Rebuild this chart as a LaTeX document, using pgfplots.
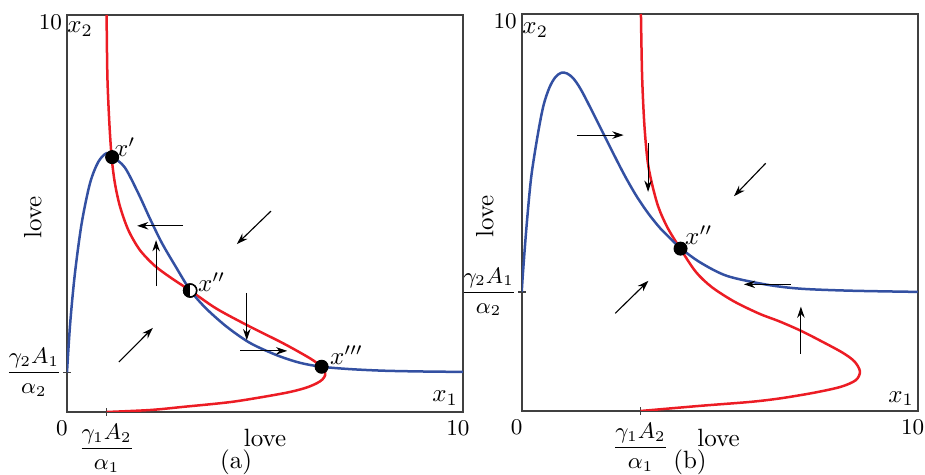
\documentclass[border=0pt]{standalone}
\usepackage{pgfplots}
\pgfplotsset{compat=1.18}
\usetikzlibrary{arrows.meta}
\definecolor{nullRed}{HTML}{EC1C24}
\definecolor{nullBlue}{HTML}{3350A2}
\definecolor{frameGray}{HTML}{404040}

\pgfplotsset{phase panel/.style={
  scale only axis, anchor=south west,
  width=158.4pt, height=158.8pt,
  xmin=0, xmax=10, ymin=0, ymax=10,
  axis line style={frameGray,line width=0.6pt},
  tick style={frameGray,line width=0.5pt},
  tick align=center, tick pos=left, major tick length=3pt,
  tick label style={font=\small},
  yticklabel style={xshift=3pt},
  label style={font=\normalsize},
  extra x ticks={0,10}, extra x tick labels={$0$,$10$},
  extra x tick style={major tick length=0pt,xticklabel style={xshift=-2pt}},
  extra y ticks={10}, extra y tick labels={$10$},
  extra y tick style={major tick length=0pt,yticklabel style={xshift=-1.5pt,yshift=-3pt}},
  xlabel={love}, ylabel={love},
},
curve/.style={line width=1pt,smooth,mark=none},
flow/.style={black,line width=0.45pt,mark=none,-{Stealth[length=4.5pt,width=3pt]}},
eq/.style={only marks,mark=*,mark size=2.6pt,black},
}

\begin{document}
\begin{tikzpicture}
\path[use as bounding box] (0,0) rectangle (370pt,190pt);

% ---------- panel (a)
\begin{axis}[phase panel, at={(26.8pt,25.2pt)},
  xtick={1}, xticklabels={$\displaystyle\frac{\gamma_1 A_2}{\alpha_1}$},
  ytick={1}, yticklabels={$\displaystyle\frac{\gamma_2 A_1}{\alpha_2}$},
  xlabel style={at={(axis description cs:0.5,-0.066)},anchor=center},
  ylabel style={at={(axis description cs:-0.086,0.49)},anchor=center},
]
\addplot[curve,nullRed] coordinates {
  (1.0,0.0) (2.1,0.05) (2.94,0.13) (4.2,0.26) (5.46,0.47) (6.0,0.6)
  (6.3,0.72) (6.45,0.82) (6.52,0.93) (6.5,1.04) (6.43,1.14) (6.14,1.35)
  (5.46,1.73) (4.62,2.15) (3.78,2.6) (3.11,3.06) (2.64,3.37) (2.22,3.68)
  (1.84,4.08) (1.55,4.58) (1.34,5.17) (1.21,5.76) (1.13,6.39) (1.07,7.27)
  (1.02,8.45) (1.0,10)};
\addplot[curve,nullBlue] coordinates {
  (0,1.0) (0.08,2.23) (0.2,3.49) (0.37,4.75) (0.58,5.76) (0.79,6.3)
  (1.0,6.52) (1.15,6.43) (1.46,6.16) (1.8,5.51) (2.1,4.86) (2.4,4.25)
  (2.74,3.67) (3.11,3.07) (3.5,2.62) (4.03,2.15) (4.62,1.74) (5.3,1.43)
  (5.88,1.24) (6.43,1.14) (7.15,1.08) (8,1.04) (9,1.02) (10,1.01)};
\addplot[flow] coordinates {(2.93,4.69) (1.77,4.69)};
\addplot[flow] coordinates {(2.25,3.17) (2.25,4.33)};
\addplot[flow] coordinates {(5.15,5.06) (4.29,4.23)};
\addplot[flow] coordinates {(1.31,1.26) (2.17,2.12)};
\addplot[flow] coordinates {(4.54,3.0) (4.54,1.81)};
\addplot[flow] coordinates {(4.37,1.54) (5.56,1.54)};
\addplot[eq] coordinates {(1.14,6.42) (6.43,1.14)};
\addplot[only marks,mark=*,mark size=2.6pt,mark options={draw=black,fill=white,line width=0.6pt}]
  coordinates {(3.11,3.06)};
\addplot[only marks,mark=halfcircle*,mark size=2.6pt,
  mark options={rotate=90,draw=black,fill=black,line width=0.6pt}]
  coordinates {(3.11,3.06)};
\node at (axis cs:1.46,6.68) {$x'$};
\node at (axis cs:3.65,3.28) {$x''$};
\node at (axis cs:7.06,1.44) {$x'''$};
\node at (axis cs:0.33,9.65) {$x_2$};
\node at (axis cs:9.55,0.35) {$x_1$};
\end{axis}

% ---------- panel (b)
\begin{axis}[phase panel, at={(208.7pt,25.6pt)},
  xtick={3}, xticklabels={$\displaystyle\frac{\gamma_1 A_2}{\alpha_1}$},
  ytick={3}, yticklabels={$\displaystyle\frac{\gamma_2 A_1}{\alpha_2}$},
  xlabel style={at={(axis description cs:0.497,-0.068)},anchor=center},
  ylabel style={at={(axis description cs:-0.093,0.49)},anchor=center},
]
\addplot[curve,nullRed] coordinates {
  (3.0,0.0) (4.51,0.13) (5.78,0.23) (6.54,0.32) (7.38,0.46) (8.06,0.61)
  (8.44,0.78) (8.54,1.0) (8.4,1.25) (8.1,1.47) (7.6,1.74) (7.05,2.02)
  (6.5,2.26) (6.0,2.45) (5.36,2.76) (4.8,3.12) (4.4,3.5) (4.01,4.08)
  (3.67,4.64) (3.42,5.23) (3.2,6.15) (3.1,7.16) (3.04,8.42) (3.01,10)};
\addplot[curve,nullBlue] coordinates {
  (0,3.0) (0.03,3.47) (0.12,4.64) (0.24,5.9) (0.41,6.99) (0.55,7.7)
  (0.7,8.15) (0.85,8.41) (1.0,8.52) (1.15,8.5) (1.3,8.38) (1.45,8.17)
  (1.6,7.9) (1.93,7.25) (2.27,6.57) (2.6,5.93) (2.9,5.41) (3.2,4.97)
  (3.5,4.6) (3.8,4.3) (4.01,4.1) (4.51,3.74) (5.19,3.4) (6.2,3.18)
  (7.05,3.08) (8.31,3.03) (10,3.0)};
\addplot[flow] coordinates {(1.39,6.95) (2.57,6.95)};
\addplot[flow] coordinates {(3.19,6.74) (3.19,5.52)};
\addplot[flow] coordinates {(6.16,6.24) (5.36,5.41)};
\addplot[flow] coordinates {(2.36,2.46) (3.2,3.28)};
\addplot[flow] coordinates {(6.79,3.19) (5.61,3.19)};
\addplot[flow] coordinates {(7.05,1.44) (7.05,2.63)};
\addplot[eq] coordinates {(4.01,4.09)};
\node at (axis cs:4.47,4.43) {$x''$};
\node at (axis cs:0.34,9.6) {$x_2$};
\node at (axis cs:9.58,0.31) {$x_1$};
\end{axis}

\node at (94.4pt,5.2pt) {(a)};
\node at (276pt,5.2pt) {(b)};
\end{tikzpicture}
\end{document}
